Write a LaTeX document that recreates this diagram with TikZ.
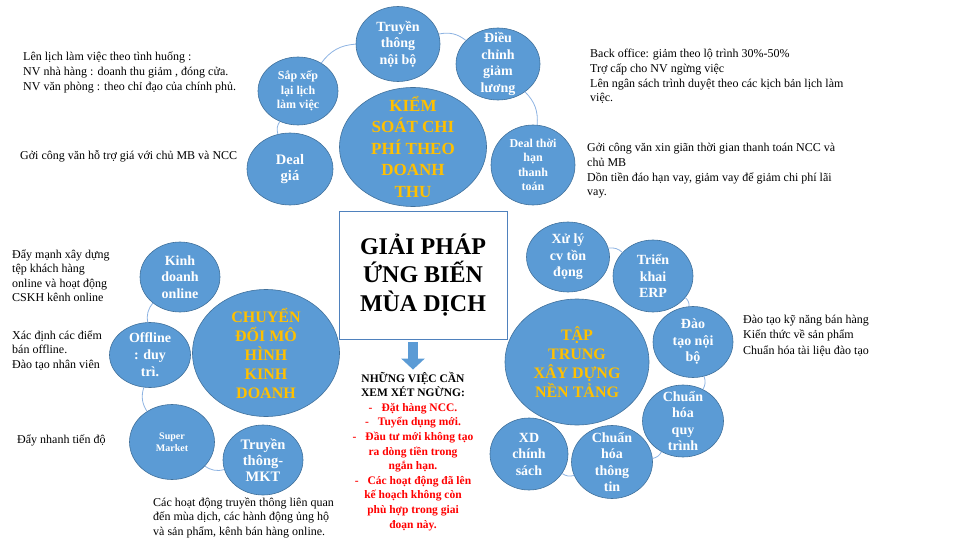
\documentclass[tikz,border=0pt]{standalone}
\usepackage{fontspec}
\setmainfont{Liberation Serif}
\usepackage{xcolor}
\usetikzlibrary{arrows.meta,shapes,shapes.geometric}

\definecolor{smartblue}{HTML}{5B9BD5}
\definecolor{edgeblue}{HTML}{41719C}
\definecolor{ringblue}{HTML}{8DB3E2}
\definecolor{hubgold}{HTML}{FFC000}
\definecolor{boxblue}{HTML}{4F81BD}

\tikzset{
  sat/.style={draw=edgeblue, fill=smartblue, ellipse, inner sep=0pt, line width=0.6pt},
  satlabel/.style={text=white, align=center, inner sep=0pt, font=\bfseries\fontsize{14}{16.5}\selectfont},
  hublabel/.style={text=hubgold, align=center, inner sep=0pt, font=\bfseries\fontsize{16}{19}\selectfont},
  ring/.style={draw=ringblue, line width=0.8pt, bend left=25},
  note/.style={anchor=base west, align=left, inner sep=0pt, font=\fontsize{12}{15}\selectfont},
  downarrow/.style={draw=smartblue, line width=10pt, -{Triangle[length=11pt,width=23pt]}},
}

\begin{document}
\begin{tikzpicture}[x=1pt, y=-1pt]
\useasboundingbox (0,0) rectangle (960,540);

\node[sat, minimum width=147pt, minimum height=119pt, label={[hublabel, font=\bfseries\fontsize{17}{21.5}\selectfont]center:KIỂM\\SOÁT CHI\\PHÍ THEO\\DOANH\\THU}] (kc) at (413,147) {};
\node[sat, minimum width=84pt, minimum height=75pt, label={[satlabel]center:Truyền\\thông\\nội bộ}] (tt) at (398,44) {};
\node[sat, minimum width=84pt, minimum height=72pt, label={[satlabel]center:Điều\\chỉnh\\giảm\\lương}] (dc) at (498,64) {};
\node[sat, minimum width=80pt, minimum height=68pt, label={[satlabel, font=\bfseries\fontsize{12}{14.5}\selectfont]center:Sắp xếp\\lại lịch\\làm việc}] (sx) at (298,91) {};
\node[sat, minimum width=86pt, minimum height=72pt, label={[satlabel, font=\bfseries\fontsize{14.5}{16}\selectfont]center:Deal\\giá}] (dg) at (290,169) {};
\node[sat, minimum width=84pt, minimum height=80pt, label={[satlabel, font=\bfseries\fontsize{12}{14.5}\selectfont]center:Deal thời\\hạn\\thanh\\toán}] (dh) at (533,165) {};
\path[draw] [ring] (dg) to (sx);
\path[draw] [ring] (sx) to (tt);
\path[draw] [ring] (tt) to (dc);
\path[draw] [ring] (dc) to (dh);

\node[sat, minimum width=147pt, minimum height=127pt, label={[hublabel]center:CHUYỂN\\ĐỔI MÔ\\HÌNH\\KINH\\DOANH}] (cd) at (266,353) {};
\node[sat, minimum width=80pt, minimum height=70pt, label={[satlabel]center:Kinh\\doanh\\online}] (ko) at (180,277) {};
\node[sat, minimum width=81pt, minimum height=65pt, label={[satlabel, font=\bfseries\fontsize{14}{17}\selectfont]center:Offline\\: duy\\trì.}] (of) at (150,355) {};
\node[sat, minimum width=85pt, minimum height=75pt, label={[satlabel, font=\bfseries\fontsize{10}{11.7}\selectfont]center:Super\\Market}] (sm) at (172,442) {};
\node[sat, minimum width=80pt, minimum height=70pt, label={[satlabel, font=\bfseries\fontsize{14.5}{16}\selectfont]center:Truyền\\thông-\\MKT}] (mk) at (263,460) {};
\path[draw] [ring] (mk) to (sm);
\path[draw] [ring] (sm) to (of);
\path[draw] [ring] (of) to (ko);

\node[sat, minimum width=144pt, minimum height=126pt, label={[hublabel]center:TẬP\\TRUNG\\XÂY DỰNG\\NỀN TẢNG}] (tn) at (577,362) {};
\node[sat, minimum width=83pt, minimum height=70pt, label={[satlabel]center:Xử lý\\cv tồn\\đọng}] (xl) at (568,257) {};
\node[sat, minimum width=80pt, minimum height=72pt, label={[satlabel]center:Triển\\khai\\ERP}] (tk) at (653,276) {};
\node[sat, minimum width=80pt, minimum height=71pt, label={[satlabel]center:Đào\\tạo nội\\bộ}] (dt) at (693,342) {};
\node[sat, minimum width=81pt, minimum height=72pt, label={[satlabel]center:Chuẩn\\hóa\\quy\\trình}] (cq) at (683,421) {};
\node[sat, minimum width=81pt, minimum height=73pt, label={[satlabel]center:Chuẩn\\hóa\\thông\\tin}] (ct) at (612,462) {};
\node[sat, minimum width=78pt, minimum height=72pt, label={[satlabel]center:XD\\chính\\sách}] (xd) at (529,454) {};
\path[draw] [ring] (xl) to (tk);
\path[draw] [ring] (tk) to (dt);
\path[draw] [ring] (dt) to (cq);
\path[draw] [ring] (cq) to (ct);
\path[draw] [ring] (ct) to (xd);

\node[draw=boxblue, fill=white, line width=0.8pt, minimum width=168pt, minimum height=128pt, align=center, font=\bfseries\fontsize{24}{28.5}\selectfont] (gp) at (423,275) {GIẢI PHÁP\\ỨNG BIẾN\\MÙA DỊCH};

\node[anchor=base, align=center, inner sep=0pt, text=red, font=\bfseries\fontsize{11.5}{14.6}\selectfont] (ng) at (413,528) {\textcolor{black}{NHỮNG VIỆC CẦN}\\\textcolor{black}{XEM XÉT NGỪNG:}\\-\hspace{9pt}Đặt hàng NCC.\\-\hspace{9pt}Tuyển dụng mới.\\-\hspace{9pt}Đầu tư mới không tạo\\ra dòng tiền trong\\ngắn hạn.\\-\hspace{9pt}Các hoạt động đã lên\\kế hoạch không còn\\phù hợp trong giai\\đoạn này.};
\path[draw] [downarrow, shorten <=3pt, shorten >=2pt] (gp.south -| ng.north) -- (ng.north);

\node[note] (n1) at (23,91) {Lên lịch làm việc theo tình huống :\\NV nhà hàng : doanh thu giảm , đóng cửa.\\NV văn phòng : theo chỉ đạo của chính phủ.};
\node[note] (n2) at (20,160) {Gởi công văn hỗ trợ giá với chủ MB và NCC};
\node[note, font=\fontsize{12}{14.7}\selectfont] (n3) at (590,102) {Back office: giảm theo lộ trình 30\%-50\%\\Trợ cấp cho NV ngừng việc\\Lên ngân sách trình duyệt theo các kịch bản lịch làm\\việc.};
\node[note, font=\fontsize{12}{14.7}\selectfont] (n4) at (587,196) {Gởi công văn xin giãn thời gian thanh toán NCC và\\chủ MB\\Dồn tiền đáo hạn vay, giảm vay để giảm chi phí lãi\\vay.};
\node[note, font=\fontsize{12}{14.5}\selectfont] (n5) at (12,301.5) {Đẩy mạnh xây dựng\\tệp khách hàng\\online và hoạt động\\CSKH kênh online};
\node[note, font=\fontsize{12}{14.5}\selectfont] (n6) at (12,368) {Xác định các điểm\\bán offline.\\Đào tạo nhân viên};
\node[note] (n7) at (17,443) {Đẩy nhanh tiến độ};
\node[note, font=\fontsize{12}{14.5}\selectfont] (n8) at (153,535) {Các hoạt động truyền thông liên quan\\đến mùa dịch, các hành động ủng hộ\\và sản phẩm, kênh bán hàng online.};
\node[note, font=\fontsize{12}{15.5}\selectfont] (n9) at (743,354) {Đào tạo kỹ năng bán hàng\\Kiến thức về sản phẩm\\Chuẩn hóa tài liệu đào tạo};

\end{tikzpicture}
\end{document}
